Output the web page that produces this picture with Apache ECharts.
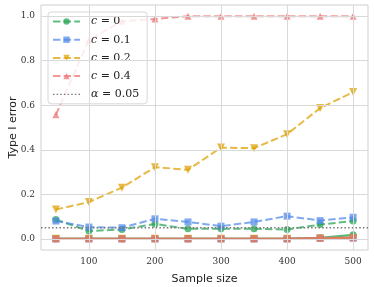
<!DOCTYPE html>
<html><head><meta charset="utf-8">
<script src="https://cdn.jsdelivr.net/npm/echarts@6/dist/echarts.min.js"></script>
<style>html,body{margin:0;padding:0;background:#fff}#c{width:374px;height:287px}</style>
</head><body><div id="c"></div>
<script>
const sampleSizes = [50, 100, 150, 200, 250, 300, 350, 400, 450, 500];
const c0Dashed  = [0.087, 0.035, 0.042, 0.067, 0.045, 0.045, 0.045, 0.042, 0.064, 0.080];
const c01Dashed = [0.080, 0.053, 0.050, 0.090, 0.076, 0.057, 0.076, 0.102, 0.082, 0.097];
const c02Dashed = [0.132, 0.165, 0.230, 0.322, 0.310, 0.410, 0.407, 0.470, 0.587, 0.659];
const c04Dashed = [0.557, 0.894, 0.977, 0.987, 1.0, 1.0, 1.0, 1.0, 1.0, 1.0];
const c0Solid  = [0, 0, 0, 0, 0, 0, 0, 0, 0.004, 0.018];
const c01Solid = [0, 0, 0, 0, 0, 0, 0, 0, 0.003, 0.003];
const c02Solid = [0, 0, 0, 0, 0, 0, 0, 0, 0.002, 0.004];
const c04Solid = [0, 0, 0, 0, 0, 0, 0, 0, 0.003, 0.005];
const alphaLevel = 0.05;
const seriesNames = ['c = 0', 'c = 0.1', 'c = 0.2', 'c = 0.4'];
const alphaName = 'α = 0.05';
const xTicks = [100, 200, 300, 400, 500];
const yTicks = [0.0, 0.2, 0.4, 0.6, 0.8, 1.0];
const xRange = [27.5, 522.5];
const yRange = [-0.05, 1.05];

const colors = ['#23a252', '#5088ea', '#de9f00', '#ef7070'];
const solidColors = ['#23a252', '#5088ea', '#de9f00', '#e07a66'];
const markers = ['circle', 'rect', 'path://M0,0 L10,0 L5,9 Z', 'triangle'];
const solidMarkers = ['circle', 'rect', 'path://M0,0 L10,0 L5,9 Z', 'rect'];
const dashedData = [c0Dashed, c01Dashed, c02Dashed, c04Dashed];
const solidData = [c0Solid, c01Solid, c02Solid, c04Solid];
const zip = a => sampleSizes.map((x, i) => [x, a[i]]);

const gridStyle = {color: '#d9d9d9', width: 1, type: 'solid'};
const series = [{
  name: 'grid', type: 'line', data: [], z: 0, silent: true,
  markLine: {
    silent: true, symbol: ['none', 'none'], label: {show: false}, animation: false,
    lineStyle: gridStyle, emphasis: {disabled: true},
    data: [...xTicks.map(v => ({xAxis: v})), ...yTicks.map(v => ({yAxis: v}))]
  }
}];
solidData.forEach((d, k) => {
  series.push({
    name: 'solid' + k, type: 'line', data: zip(d), z: 2,
    symbol: solidMarkers[k], symbolSize: k === 2 ? 8 : 7,
    lineStyle: {width: 2.4, color: solidColors[k], type: 'solid', opacity: k === 3 ? 0.9 : 0.75},
    itemStyle: {color: solidColors[k], opacity: k === 3 ? 0.9 : 0.75},
    emphasis: {disabled: true}, animation: false
  });
});
dashedData.forEach((d, k) => {
  series.push({
    name: seriesNames[k], type: 'line', data: zip(d), z: 3,
    symbol: markers[k], symbolSize: k === 2 ? 8 : 7,
    lineStyle: {width: 2, color: colors[k], type: [7.4, 3.2], opacity: 0.72},
    itemStyle: {color: colors[k], opacity: 0.72},
    emphasis: {disabled: true}, animation: false
  });
});
series.push({
  name: alphaName, type: 'line', data: xRange.map(x => [x, alphaLevel]), z: 4,
  symbol: 'none', lineStyle: {width: 1.3, color: '#777', type: [1.5, 2.2]},
  itemStyle: {color: '#777'}, emphasis: {disabled: true}, animation: false
});

let dotIcon = 'path://M0,0L0.01,0L0.01,0.01Z M0,8L0.01,8L0.01,8.01Z';
for (let x = 0; x < 26; x += 3.7) dotIcon += ` M${x},3.4h1.5v1.3h-1.5Z`;

const legendFmt = name => {
  if (name === alphaName) return '{i|α} = 0.05';
  return '{i|c} = ' + name.split('= ')[1];
};

const chart = echarts.init(document.getElementById('c'), null, {renderer: 'canvas'});
chart.setOption({
  animation: false,
  backgroundColor: '#fff',
  grid: {left: 41, right: 6, top: 5, bottom: 37, show: true, borderColor: '#cfcfcf', borderWidth: 1,
    outerBoundsMode: 'none', containLabel: false},
  legend: {
    data: [...seriesNames, {name: alphaName, icon: dotIcon, itemStyle: {color: '#777'}}],
    orient: 'vertical', left: 48, top: 12,
    padding: [4, 8, 4, 4],
    itemWidth: 27, itemHeight: 8, itemGap: 7.2,
    backgroundColor: 'rgba(255,255,255,0.82)', borderColor: '#d8d8d8', borderWidth: 1, borderRadius: 3,
    formatter: legendFmt,
    textStyle: {fontFamily: 'DejaVu Serif', fontSize: 11, color: '#222', padding: [0, 0, 0, 6],
      rich: {i: {fontFamily: 'DejaVu Serif', fontStyle: 'italic', fontSize: 11, color: '#222'}}},
    selectedMode: false
  },
  xAxis: {
    type: 'value', min: xRange[0], max: xRange[1],
    name: 'Sample size', nameLocation: 'middle', nameGap: 24, nameMoveOverlap: false,
    nameTextStyle: {fontFamily: 'DejaVu Sans', fontSize: 11, color: '#222'},
    axisLine: {show: false}, axisTick: {show: false},
    axisLabel: {customValues: xTicks, fontFamily: 'DejaVu Serif', fontSize: 9, color: '#333', margin: 7},
    splitLine: {show: false}
  },
  yAxis: {
    type: 'value', min: yRange[0], max: yRange[1],
    name: 'Type I error', nameLocation: 'middle', nameGap: 22, nameMoveOverlap: false,
    nameTextStyle: {fontFamily: 'DejaVu Sans', fontSize: 11, color: '#222'},
    axisLine: {show: false}, axisTick: {show: false},
    axisLabel: {customValues: yTicks, fontFamily: 'DejaVu Serif', fontSize: 9, color: '#333', margin: 6,
      formatter: v => v.toFixed(1)},
    splitLine: {show: false}
  },
  series: series
});
</script></body></html>
